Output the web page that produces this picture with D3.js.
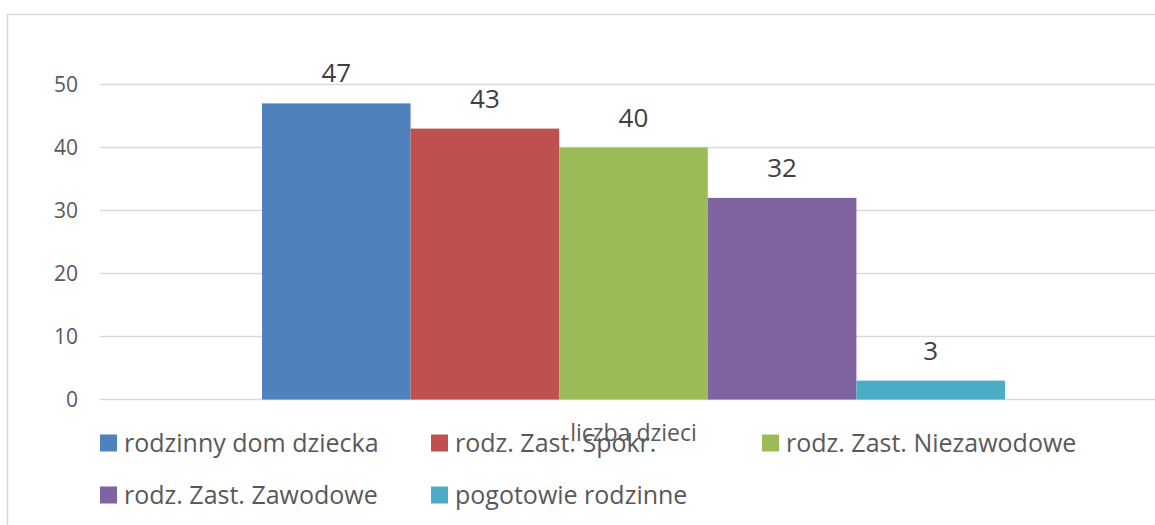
<!DOCTYPE html>
<html>
<head>
<meta charset="utf-8">
<script src="https://cdn.jsdelivr.net/npm/d3@7"></script>
<style>
  body { margin: 0; background: #fff; }
  svg { font-family: "Open Sans", sans-serif; display: block; }
</style>
</head>
<body>
<div id="chart"></div>
<script>
const categories = ['liczba dzieci'];
const seriesNames = ['rodzinny dom dziecka', 'rodz. Zast. Spokr.', 'rodz. Zast. Niezawodowe', 'rodz. Zast. Zawodowe', 'pogotowie rodzinne'];
const seriesValues = [47, 43, 40, 32, 3];
const seriesColors = ['#4f81bd', '#c0504d', '#9bbb59', '#8064a2', '#4bacc6'];
const yTicks = [0, 10, 20, 30, 40, 50];

const width = 1155, height = 525;
const plot = {l: 100, r: 1167, t: 84.5, b: 399.5};

const svg = d3.select('#chart').append('svg')
  .attr('width', width)
  .attr('height', height);

// chart frame
svg.append('rect')
  .attr('x', 7.5).attr('y', 14.5)
  .attr('width', 1200).attr('height', 600)
  .attr('fill', 'none')
  .attr('stroke', '#d9d9d9')
  .attr('stroke-width', 1.5);

const y = d3.scaleLinear().domain([0, 50]).range([plot.b, plot.t]);

const x0 = d3.scaleBand().domain(categories)
  .range([plot.l, plot.r])
  .paddingInner(0).paddingOuter(0.218);

const x1 = d3.scaleBand().domain(seriesNames)
  .range([0, x0.bandwidth()]).padding(0);

// gridlines
svg.append('g').selectAll('line')
  .data(yTicks)
  .enter().append('line')
  .attr('x1', plot.l).attr('x2', width)
  .attr('y1', d => y(d)).attr('y2', d => y(d))
  .attr('stroke', '#d9d9d9')
  .attr('stroke-width', 1.5);

// y axis labels
const yAxis = svg.append('g')
  .attr('transform', `translate(78,0)`)
  .call(d3.axisLeft(y).tickValues(yTicks).tickSize(0).tickPadding(0));
yAxis.select('.domain').remove();
yAxis.selectAll('text')
  .attr('font-family', '"Open Sans", sans-serif')
  .attr('font-size', 21)
  .attr('fill', '#595959');

// bars
const g = svg.append('g').attr('transform', `translate(${x0(categories[0])},0)`);

g.selectAll('rect')
  .data(seriesValues)
  .enter().append('rect')
  .attr('x', (d, i) => x1(seriesNames[i]))
  .attr('y', d => y(d))
  .attr('width', x1.bandwidth())
  .attr('height', d => y(0) - y(d))
  .attr('fill', (d, i) => seriesColors[i]);

g.selectAll('text.val')
  .data(seriesValues)
  .enter().append('text')
  .attr('class', 'val')
  .attr('x', (d, i) => x1(seriesNames[i]) + x1.bandwidth() / 2)
  .attr('y', d => y(d) - 21)
  .attr('text-anchor', 'middle')
  .attr('font-size', 26)
  .attr('fill', '#404040')
  .text(d => d);

// category label (sits over the legend, as in the original)
svg.append('text')
  .attr('x', x0(categories[0]) + x0.bandwidth() / 2)
  .attr('y', 441)
  .attr('text-anchor', 'middle')
  .attr('font-size', 23)
  .attr('fill', '#595959')
  .text(categories[0]);

// legend
const legendPos = [[100, 443], [431, 443], [762, 443], [100, 495], [431, 495]];
const legend = svg.append('g').selectAll('g')
  .data(seriesNames)
  .enter().append('g')
  .attr('transform', (d, i) => `translate(${legendPos[i][0]},${legendPos[i][1]})`);

legend.append('rect')
  .attr('x', 0).attr('y', -8.5)
  .attr('width', 17).attr('height', 17)
  .attr('fill', (d, i) => seriesColors[i]);

legend.append('text')
  .attr('x', 24)
  .attr('y', 0)
  .attr('dy', '0.36em')
  .attr('font-size', 25)
  .attr('fill', '#595959')
  .text(d => d);
</script>
</body>
</html>
